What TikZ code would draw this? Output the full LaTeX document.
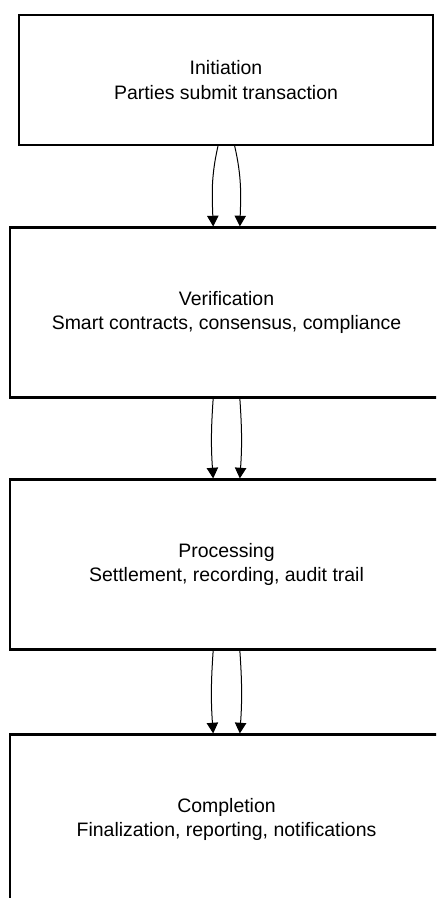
\documentclass[tikz,border=0pt]{standalone}
\usepackage{fontspec}
\setmainfont{Liberation Sans}
\usetikzlibrary{math,arrows.meta}

\begin{document}
\begin{tikzpicture}[x=0.75pt, y=-0.75pt,
  stage/.style={draw, line width=1.6pt, align=center, inner sep=0pt,
    minimum width=324.75pt, minimum height=127.5pt,
    font=\fontsize{14.6}{18.4}\selectfont},
  flow/.style={-{Triangle[length=8pt,width=8.5pt]}, line width=0.75pt}]
  \tikzmath{%
    \midx = 226.5; \ya = 80; \yb = 312.5; \yc = 564.5; \yd = 819.5;
  }
  \useasboundingbox (0,0) rectangle (436,898);
  \clip (0,0) rectangle (436,898);

  \node[stage, minimum width=310.5pt, minimum height=97.5pt] (init) at (\midx-0.5,\ya)
    {Initiation\\Parties submit transaction};
  \node[stage] (verif) at (\midx,\yb) {Verification\\Smart contracts, consensus, compliance};
  \node[stage] (proc) at (\midx,\yc) {Processing\\Settlement, recording, audit trail};
  \node[stage] (compl) at (\midx,\yd) {Completion\\Finalization, reporting, notifications};

  \draw[flow] ([xshift=-6pt]init.south) to[out=257,in=92] ([xshift=-10pt]verif.north);
  \draw[flow] ([xshift=6.5pt]init.south) to[out=283,in=88] ([xshift=10pt]verif.north);
  \draw[flow] ([xshift=-10pt]verif.south) to[out=266,in=94] ([xshift=-10pt]proc.north);
  \draw[flow] ([xshift=10pt]verif.south) to[out=274,in=86] ([xshift=10pt]proc.north);
  \draw[flow] ([xshift=-10pt]proc.south) to[out=266,in=94] ([xshift=-10pt]compl.north);
  \draw[flow] ([xshift=10pt]proc.south) to[out=274,in=86] ([xshift=10pt]compl.north);
\end{tikzpicture}
\end{document}
